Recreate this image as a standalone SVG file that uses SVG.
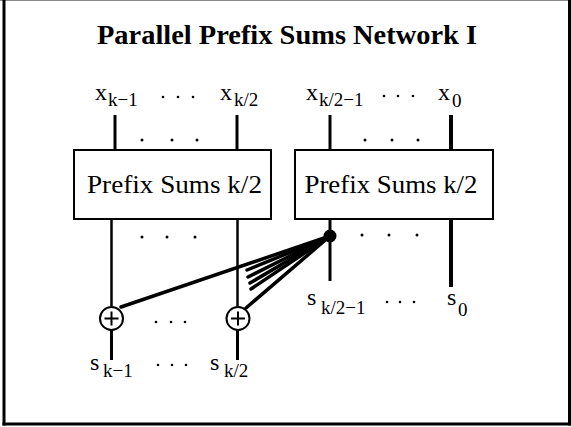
<svg xmlns="http://www.w3.org/2000/svg" width="571" height="427" viewBox="0 0 571 427">
  <style>
    .frame { fill: none; stroke: #000; stroke-width: 3; }
    .box { fill: #fff; stroke: #000; stroke-width: 2; }
    .wire { stroke: #000; stroke-width: 3; fill: none; }
    .thick { stroke-width: 4; }
    .thin { stroke-width: 2.5; }
    .fan { stroke: #000; stroke-width: 3.5; stroke-linecap: round; fill: none; }
    .adder { fill: #fff; stroke: #000; stroke-width: 2; }
    .t { font-family: "Liberation Serif", "Times New Roman", serif; fill: #000; }
    .lbl { font-size: 24px; }
    .sub { font-size: 19px; }
    .title { font-size: 27px; font-weight: bold; }
  </style>

  <!-- outer frame -->
  <rect x="0" y="0" width="571" height="427" fill="#fff"/>
  <line x1="0" y1="0.5" x2="571" y2="0.5" stroke="#888" stroke-width="1"/>
  <line x1="4" y1="0" x2="4" y2="425.5" class="frame"/>
  <line x1="569.5" y1="0" x2="569.5" y2="425.5" class="frame"/>
  <line x1="2.5" y1="424" x2="571" y2="424" class="frame"/>

  <text class="t title" x="287" y="44" text-anchor="middle" textLength="380" lengthAdjust="spacingAndGlyphs">Parallel Prefix Sums Network I</text>

  <!-- connectors -->
  <g id="connectors">
    <!-- inputs into the two halves -->
    <line x1="115" y1="115" x2="115" y2="150" class="wire"/>
    <line x1="237" y1="115" x2="237" y2="150" class="wire"/>
    <line x1="330" y1="115" x2="330" y2="150" class="wire"/>
    <line x1="451" y1="115" x2="451" y2="150" class="wire thick"/>
    <!-- left half outputs through adders -->
    <line x1="111.5" y1="219" x2="111.5" y2="306" class="wire thin"/>
    <line x1="111.5" y1="330" x2="111.5" y2="360" class="wire"/>
    <line x1="237.5" y1="219" x2="237.5" y2="306" class="wire thin"/>
    <line x1="237.5" y1="330" x2="237.5" y2="360" class="wire"/>
    <!-- right half outputs -->
    <line x1="330" y1="219" x2="330" y2="281" class="wire"/>
    <line x1="451" y1="219" x2="451" y2="287" class="wire thick"/>
    <!-- broadcast of s(k/2-1) to the adders -->
    <line x1="330" y1="236" x2="121" y2="307" class="fan"/>
    <line x1="330" y1="236" x2="246" y2="308" class="fan"/>
    <line x1="330" y1="236" x2="247" y2="270" class="fan"/>
    <line x1="330" y1="236" x2="248" y2="277" class="fan"/>
    <line x1="330" y1="236" x2="250" y2="283" class="fan"/>
    <line x1="330" y1="236" x2="251" y2="289" class="fan"/>
    <circle cx="330" cy="236" r="6.5" fill="#000"/>
  </g>

  <!-- sub-networks -->
  <g id="prefix-left">
    <rect x="74" y="150" width="197" height="69" class="box"/>
    <text class="t" x="174.5" y="193" font-size="26" text-anchor="middle" textLength="175" lengthAdjust="spacingAndGlyphs">Prefix Sums k/2</text>
  </g>
  <g id="prefix-right">
    <rect x="295" y="150" width="198" height="69" class="box"/>
    <text class="t" x="391" y="193" font-size="26" text-anchor="middle" textLength="173" lengthAdjust="spacingAndGlyphs">Prefix Sums k/2</text>
  </g>

  <!-- adders -->
  <g id="adder-left">
    <circle cx="111.5" cy="318.5" r="11.5" class="adder"/>
    <path d="M104.5 318.5 H118.5 M111.5 311.5 V325.5" stroke="#000" stroke-width="2"/>
  </g>
  <g id="adder-right">
    <circle cx="238" cy="318.5" r="11.5" class="adder"/>
    <path d="M231 318.5 H245 M238 311.5 V325.5" stroke="#000" stroke-width="2"/>
  </g>

  <!-- ellipsis between wires -->
  <g id="ellipses" fill="#000">
    <circle cx="142" cy="140" r="1.5"/><circle cx="172" cy="140" r="1.5"/><circle cx="197" cy="140" r="1.5"/>
    <circle cx="365" cy="140" r="1.5"/><circle cx="392" cy="140" r="1.5"/><circle cx="418" cy="140" r="1.5"/>
    <circle cx="142" cy="237" r="1.5"/><circle cx="167" cy="237" r="1.5"/><circle cx="195" cy="237" r="1.5"/>
    <circle cx="362" cy="235" r="1.5"/><circle cx="389" cy="235" r="1.5"/><circle cx="417" cy="235" r="1.5"/>
    <circle cx="156" cy="322" r="1.3"/><circle cx="171" cy="322" r="1.3"/><circle cx="185" cy="322" r="1.3"/>
    <circle cx="163" cy="97" r="1.3"/><circle cx="178" cy="97" r="1.3"/><circle cx="193" cy="97" r="1.3"/>
    <circle cx="384" cy="96" r="1.3"/><circle cx="398" cy="96" r="1.3"/><circle cx="413" cy="96" r="1.3"/>
    <circle cx="158" cy="365" r="1.3"/><circle cx="172" cy="365" r="1.3"/><circle cx="186" cy="365" r="1.3"/>
    <circle cx="387" cy="302" r="1.3"/><circle cx="400" cy="302" r="1.3"/><circle cx="414" cy="302" r="1.3"/>
  </g>

  <!-- input labels -->
  <g id="inputs" class="t">
    <text class="lbl" x="95" y="100">x</text><text class="sub" x="108" y="106">k−1</text>
    <text class="lbl" x="220" y="100">x</text><text class="sub" x="234" y="106">k/2</text>
    <text class="lbl" x="306" y="100">x</text><text class="sub" x="319" y="106">k/2−1</text>
    <text class="lbl" x="438" y="100">x</text><text class="sub" x="452" y="107">0</text>
  </g>

  <!-- output labels -->
  <g id="outputs" class="t">
    <text class="lbl" x="90" y="370">s</text><text class="sub" x="103" y="377">k−1</text>
    <text class="lbl" x="210" y="370">s</text><text class="sub" x="224" y="377">k/2</text>
    <text class="lbl" x="307" y="305">s</text><text class="sub" x="321" y="314">k/2−1</text>
    <text class="lbl" x="447" y="305">s</text><text class="sub" x="458" y="316">0</text>
  </g>
</svg>
